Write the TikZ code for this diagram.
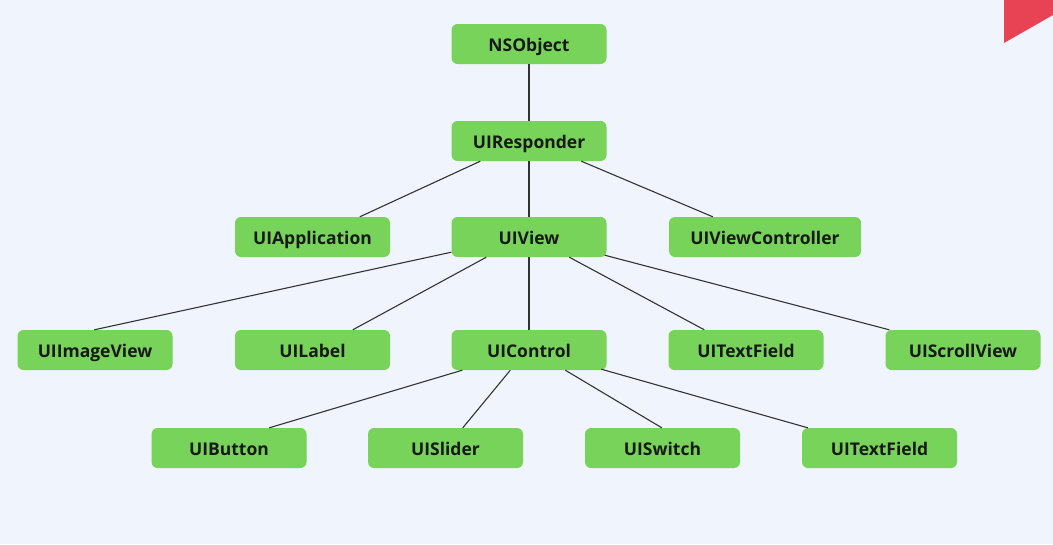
\documentclass[tikz,border=0pt]{standalone}
\usepackage{fontspec}
\setmainfont{Open Sans}
\definecolor{bg}{HTML}{F0F4FD}
\definecolor{boxgreen}{HTML}{77D35A}
\definecolor{redmark}{HTML}{E84355}
\definecolor{linec}{HTML}{333333}
\begin{document}
\begin{tikzpicture}[x=1pt,y=-1pt,
  cls/.style={fill=boxgreen,rounded corners=6pt,minimum width=155pt,minimum height=40pt,inner sep=0pt,
    font=\fontsize{17.5}{20}\selectfont\bfseries,text=black!90,text height=14.5pt,text depth=0pt},
  link/.style={draw=linec,line width=1.1pt}]
\fill[bg] (0,0) rectangle (1053,544);
\useasboundingbox (0,0) rectangle (1053,544);
\fill[redmark] (1004,0) -- (1053,0) -- (1053,15) -- (1004,43) -- cycle;
% nodes
\node[cls] (nso) at (529,44) {NSObject};
\node[cls] (resp) at (529,141) {UIResponder};
\node[cls] (app) at (312.5,237) {UIApplication};
\node[cls] (uiv) at (529,237) {UIView};
\node[cls,minimum width=192pt] (vc) at (765,237) {UIViewController};
\node[cls] (img) at (95,350) {UIImageView};
\node[cls] (lbl) at (312.5,350) {UILabel};
\node[cls] (ctl) at (529,350) {UIControl};
\node[cls] (tf) at (746,350) {UITextField};
\node[cls] (sv) at (963,350) {UIScrollView};
\node[cls] (btn) at (229,448) {UIButton};
\node[cls] (sld) at (445.5,448) {UISlider};
\node[cls] (sw) at (662.5,448) {UISwitch};
\node[cls] (tf2) at (879.5,448) {UITextField};
% connectors
\draw[link] (nso.south) -- (resp.north);
\draw[link] ([xshift=29pt]resp.south west) -- ([xshift=125pt]app.north west);
\draw[link] (resp.south) -- (uiv.north);
\draw[link] ([xshift=130pt]resp.south west) -- ([xshift=44pt]vc.north west);
\draw[link] ([yshift=5pt]uiv.south west) -- ([xshift=77pt]img.north west);
\draw[link] ([xshift=35pt]uiv.south west) -- ([xshift=118pt]lbl.north west);
\draw[link] (uiv.south) -- (ctl.north);
\draw[link] ([xshift=118pt]uiv.south west) -- ([xshift=36pt]tf.north west);
\draw[link] ([xshift=-2pt,yshift=2pt]uiv.south east) -- ([xshift=4pt]sv.north west);
\draw[link] ([xshift=11pt]ctl.south west) -- ([xshift=118pt]btn.north west);
\draw[link] ([xshift=59pt]ctl.south west) -- ([xshift=95pt]sld.north west);
\draw[link] ([xshift=114pt]ctl.south west) -- ([xshift=77pt]sw.north west);
\draw[link] ([xshift=150pt,yshift=1pt]ctl.south west) -- ([xshift=6pt]tf2.north west);
\end{tikzpicture}
\end{document}
